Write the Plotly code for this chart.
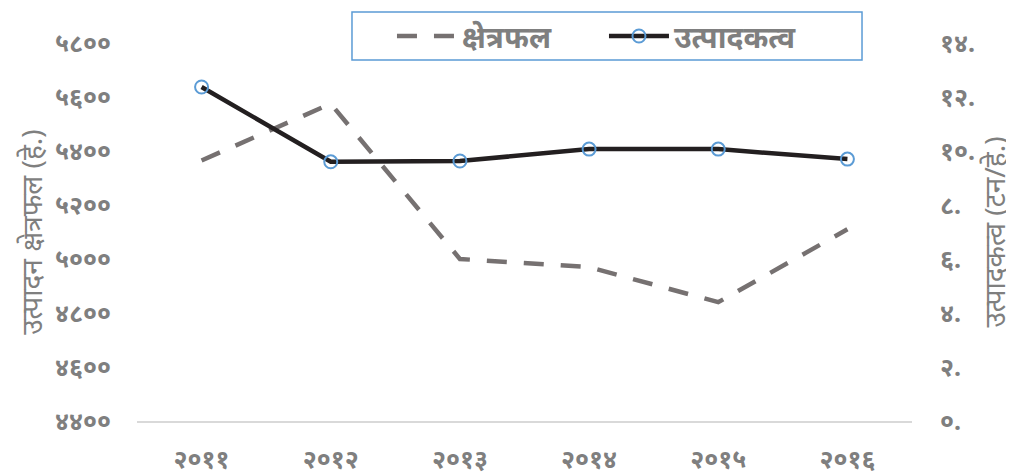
import plotly.graph_objects as go

years = ["२०११", "२०१२", "२०१३", "२०१४", "२०१५", "२०१६"]
area = [5365, 5575, 5000, 4970, 4840, 5110]
productivity = [12.37, 9.6, 9.63, 10.07, 10.07, 9.7]

left_tickvals = [4400, 4600, 4800, 5000, 5200, 5400, 5600, 5800]
left_ticktext = ["४४००", "४६००", "४८००", "५०००", "५२००", "५४००", "५६००", "५८००"]
right_tickvals = [0, 2, 4, 6, 8, 10, 12, 14]
right_ticktext = ["०.", "२.", "४.", "६.", "८.", "१०.", "१२.", "१४."]

name_area = "क्षेत्रफल"
name_prod = "उत्पादकत्व"
title_left = "उत्पादन क्षेत्रफल (हे.)"
title_right = "उत्पादकत्व (टन/हे.)"

FONT = "Noto Sans, Noto Sans Devanagari, Lohit Devanagari, sans-serif"
GRAY = "#7f7f7f"

fig = go.Figure()
fig.add_trace(go.Scatter(
    x=years, y=area, name=name_area, mode="lines",
    line=dict(color="#767171", width=4.5, dash="20px,17px"),
    yaxis="y",
))
fig.add_trace(go.Scatter(
    x=years, y=productivity, name=name_prod, mode="lines+markers",
    line=dict(color="#231f20", width=4.5),
    marker=dict(symbol="circle-open", size=13, color="#5b9bd5", line=dict(width=2, color="#5b9bd5")),
    yaxis="y2",
))

# legend frame
fig.add_shape(type="rect", xref="paper", yref="paper",
              x0=0.2774, x1=0.9355, y0=0.955, y1=1.082,
              line=dict(color="#5b9bd5", width=1.5), fillcolor="white", layer="above")

fig.update_layout(
    width=1006, height=468,
    margin=dict(l=129, r=102, t=35, b=55, autoexpand=False),
    paper_bgcolor="white", plot_bgcolor="white",
    font=dict(family=FONT, color=GRAY, size=16),
    showlegend=True,
    legend=dict(
        orientation="h", x=0.329, xanchor="left", y=1.0185, yanchor="middle",
        borderwidth=0, bgcolor="rgba(0,0,0,0)",
        font=dict(size=30, color=GRAY, family=FONT, weight="bold"),
        entrywidth=137, itemwidth=60,
    ),
    xaxis=dict(
        automargin=False, range=[-0.5, 5.5],
        showgrid=False, zeroline=False, showline=True, linecolor="#d9d9d9", linewidth=1.5,
        ticks="", tickfont=dict(size=25, color=GRAY, family=FONT, weight="bold"),
        ticklabelstandoff=15,
    ),
    yaxis=dict(
        automargin=False,
        range=[4400, 5800], tickvals=left_tickvals, ticktext=left_ticktext,
        showgrid=False, zeroline=False, showline=False, ticks="",
        tickfont=dict(size=25, color=GRAY, family=FONT, weight="bold"),
        ticklabelstandoff=25,
        title=dict(text=title_left, font=dict(size=28, color=GRAY, family=FONT), standoff=4),
    ),
    yaxis2=dict(
        automargin=False,
        range=[0, 14], tickvals=right_tickvals, ticktext=right_ticktext,
        overlaying="y", side="right",
        showgrid=False, zeroline=False, showline=False, ticks="",
        tickfont=dict(size=25, color=GRAY, family=FONT, weight="bold"),
        ticklabelstandoff=27,
        title=dict(text=title_right, font=dict(size=28, color=GRAY, family=FONT), standoff=4),
    ),
)

fig.write_html("out.html")
